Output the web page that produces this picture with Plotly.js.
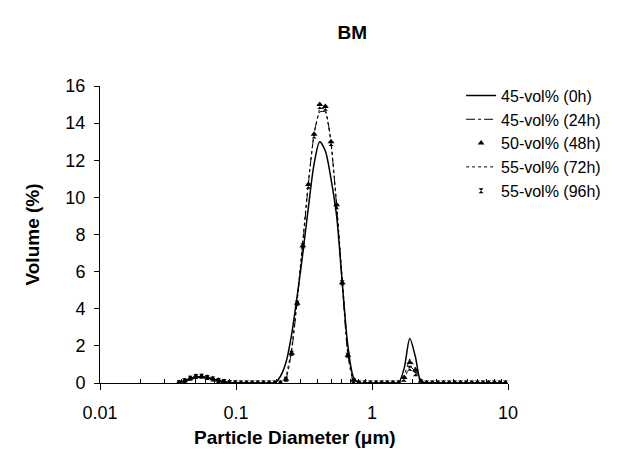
<!DOCTYPE html>
<html><head><meta charset="utf-8">
<script src="https://cdn.plot.ly/plotly-3.0.1.min.js"></script>
<style>html,body{margin:0;padding:0;background:#fff}#c{width:619px;height:472px}</style>
</head><body><div id="c"></div>
<script>
const diameter = [0.0381,0.0419,0.0461,0.0507,0.0558,0.0614,0.0675,0.0743,0.0817,0.0898,0.0988,
0.1087,0.1196,0.1315,0.1447,0.1591,0.1751,0.1926,
0.2118,0.2330,0.2563,0.2819,0.3101,0.3411,0.3752,0.4128,0.4540,0.4994,0.5494,0.6043,0.6647,0.7312,
0.8043,0.8848,0.9732,1.0706,1.1776,1.2954,1.4249,1.5674,
1.7242,1.8966,2.0862,2.2949,
2.5243,2.7768,3.0544,3.3599,3.6959,4.0655,4.4720,4.9192,5.4112,5.9523,6.5475,7.2023,7.9225,8.7148,9.5862];

const vol45_0h = [0.02,0.1,0.22,0.3,0.32,0.28,0.2,0.12,0.06,0.02,0,
0,0,0,0,0,0,0,
0.35,1.1,2.6,4.7,7.0,9.5,11.8,13.0,12.5,11.0,9.0,5.4,2.0,0.3,
0,0,0,0,0,0,0,0,
0.8,2.4,1.4,0.05,
0,0,0,0,0,0,0,0,0,0,0,0,0,0,0];

const vol45_24h = [0.02,0.12,0.24,0.33,0.35,0.3,0.22,0.14,0.07,0.03,0.01,
0,0,0,0,0,0,0,
0,0.25,1.7,4.4,7.5,10.8,13.4,14.6,14.6,12.9,9.5,5.3,1.5,0.1,
0,0,0,0,0,0,0,0,
0.2,0.9,0.6,0.05,
0,0,0,0,0,0,0,0,0,0,0,0,0,0,0];

const vol50_48h = [0.03,0.12,0.25,0.36,0.37,0.31,0.23,0.15,0.08,0.03,0.01,
0,0,0,0,0,0,0,
0,0.2,1.6,4.3,7.4,10.7,13.4,15.0,14.9,13.0,9.6,5.4,1.5,0.15,
0,0,0,0,0,0,0,0,
0.3,1.1,0.7,0.1,
0,0,0,0,0,0,0,0,0,0,0,0,0,0,0];

const vol55_72h = [0.02,0.11,0.24,0.34,0.36,0.3,0.22,0.14,0.08,0.03,0.01,
0,0,0,0,0,0,0,
0,0.3,1.8,4.5,7.6,10.9,13.5,14.8,14.8,13.1,9.7,5.5,1.6,0.15,
0,0,0,0,0,0,0,0,
0.4,1.3,0.8,0.1,
0,0,0,0,0,0,0,0,0,0,0,0,0,0,0];

const vol55_96h = [0.02,0.12,0.25,0.35,0.36,0.3,0.22,0.14,0.08,0.03,0.01,
0,0,0,0,0,0,0,
0,0.2,1.6,4.3,7.4,10.6,13.3,14.9,14.8,12.9,9.5,5.4,1.5,0.12,
0,0,0,0,0,0,0,0,
0.2,0.8,0.5,0.05,
0,0,0,0,0,0,0,0,0,0,0,0,0,0,0];

const seriesNames = ['45-vol% (0h)','45-vol% (24h)','50-vol% (48h)','55-vol% (72h)','55-vol% (96h)'];
const xTickVals = [0.01,0.1,1,10];
const xTickText = ['0.01','0.1','1','10'];
const xMinorVals = [0.02,0.03,0.04,0.05,0.06,0.07,0.08,0.09,0.2,0.3,0.4,0.5,0.6,0.7,0.8,0.9,2,3,4,5,6,7,8,9];

const F = 'Liberation Sans, Arial, sans-serif';
const traces = [
  {x: diameter, y: vol45_0h, name: seriesNames[0], mode: 'lines', legendgroup:'a',
   line: {color:'#000', width:1.5, shape:'spline', smoothing:0.8}},
  {x: diameter, y: vol45_24h, name: seriesNames[1], mode: 'lines', legendgroup:'b',
   line: {color:'#000', width:1, dash:'dashdot', shape:'spline', smoothing:0.6}},
  {x: diameter, y: vol50_48h, name: seriesNames[2], mode: 'markers', legendgroup:'c',
   marker: {symbol:'triangle-up', size:6, color:'#000'}},
  {x: diameter, y: vol55_72h, name: seriesNames[3], mode: 'lines', legendgroup:'d',
   line: {color:'#000', width:1, dash:'dot'}},
  {x: diameter, y: vol55_96h, name: seriesNames[4], mode: 'markers', legendgroup:'e',
   marker: {symbol:'hourglass', size:5, color:'#000'}}
];

const layout = {
  width: 619, height: 472,
  margin: {l:100, r:111, t:86, b:89, autoexpand:false},
  paper_bgcolor:'#fff', plot_bgcolor:'#fff',
  font: {family: F, color:'#000'},
  showlegend: true,
  title: {text:'<b>BM</b>', font:{size:19, family:F, color:'#000'}, x:0.569, xref:'container', xanchor:'center', y:0.932, yanchor:'middle'},
  xaxis: {
    type:'log', range:[-2,1], tickmode:'array', tickvals:xTickVals, ticktext:xTickText,
    ticks:'outside', ticklen:6, tickwidth:1, tickcolor:'#000',
    showline:true, linecolor:'#000', linewidth:1, showgrid:false, zeroline:false,
    tickfont:{size:18, family:F}, ticklabelstandoff: 7,
    minor:{tickmode:'array', tickvals:xMinorVals, ticks:'inside', ticklen:4, tickwidth:1, tickcolor:'#000', showgrid:false}
  },
  yaxis: {
    range:[0,16], dtick:2, tick0:0,
    ticks:'outside', ticklen:5, tickwidth:1, tickcolor:'#000',
    showline:true, linecolor:'#000', linewidth:1, showgrid:false, zeroline:false,
    tickfont:{size:18, family:F}, ticklabelstandoff: 5,
    title:{text:'<b>Volume (%)</b>', font:{size:19, family:F}, standoff:20}
  },
  annotations: [
    {text:'<b>Particle Diameter (μm)</b>', xref:'paper', yref:'paper', x:0.478, y:-0.182,
     xanchor:'center', yanchor:'middle', showarrow:false, font:{size:19, family:F}}
  ],
  legend: {x:0.885, y:1.025, xanchor:'left', yanchor:'top', font:{size:16, family:F},
    bgcolor:'rgba(0,0,0,0)', tracegroupgap:7, traceorder:'normal', itemwidth:30}
};

Plotly.newPlot('c', traces, layout, {displayModeBar:false, staticPlot:true});
</script>
</body></html>
